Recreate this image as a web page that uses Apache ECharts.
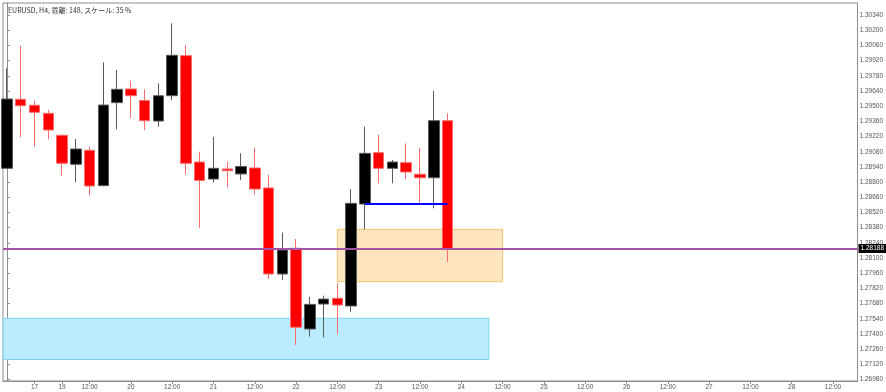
<!DOCTYPE html>
<html><head><meta charset="utf-8">
<script src="https://cdn.jsdelivr.net/npm/echarts@6/dist/echarts.min.js"></script>
<style>html,body{margin:0;padding:0;background:#fff}#c{width:886px;height:392px}</style>
</head><body><div id="c"></div>
<script>
// H4 bars (index along the time axis)
const barIndex = [0,1,2,3,4,5,6,7,8,9,10,11,12,13,14,15,16,17,18,19,20,21,22,23,24,25,26,27,28,29,30,31,32];
const openPrices  = [1.28927,1.29563,1.29508,1.29434,1.29231,1.28964,1.29093,1.28767,1.29532,1.29658,1.29552,1.29363,1.29596,1.29965,1.28985,1.28828,1.28921,1.28875,1.28930,1.28746,1.27953,1.28190,1.27446,1.27676,1.27729,1.27658,1.28598,1.29071,1.28927,1.28979,1.28872,1.28840,1.29366];
const highPrices  = [1.29849,1.30054,1.29550,1.29464,1.29239,1.29197,1.29126,1.29904,1.29833,1.29734,1.29655,1.29710,1.30263,1.30063,1.29080,1.29218,1.28988,1.29065,1.29117,1.28865,1.28335,1.28275,1.27742,1.27753,1.27867,1.28734,1.29310,1.29234,1.29004,1.29157,1.29117,1.29640,1.29434];
const lowPrices   = [1.28921,1.29213,1.29126,1.29194,1.28859,1.28798,1.28678,1.28761,1.29287,1.29388,1.29280,1.29310,1.29557,1.28872,1.28380,1.28794,1.28750,1.28819,1.28684,1.27907,1.27898,1.27298,1.27375,1.27369,1.27397,1.27605,1.28365,1.28789,1.28789,1.28826,1.28604,1.28558,1.28061];
const closePrices = [1.29566,1.29504,1.29443,1.29280,1.28973,1.29105,1.28764,1.29510,1.29655,1.29596,1.29366,1.29596,1.29969,1.28973,1.28815,1.28927,1.28905,1.28944,1.28736,1.27953,1.28174,1.27462,1.27673,1.27722,1.27667,1.28604,1.29065,1.28927,1.28985,1.28893,1.28840,1.29366,1.28188];

// time axis labels
const xLabelIdx  = [2,4,6,9,12,15,18,21,24,27,30,33,36,39,42,45,48,51,54,57,60];
const xLabelText = ['17','19','12:00','20','12:00','21','12:00','22','12:00','23','12:00','24','12:00','25','12:00','26','12:00','27','12:00','28','12:00'];
const xRange = [-0.289, 61.78];

// price axis ticks
const yTicks = [1.26980,1.27120,1.27260,1.27400,1.27540,1.27680,1.27820,1.27960,1.28100,1.28240,1.28380,1.28520,1.28660,1.28800,1.28940,1.29080,1.29220,1.29360,1.29500,1.29640,1.29780,1.29920,1.30060,1.30200,1.30340];
const yRange = [1.269667, 1.304506];

// drawn objects
const currentPrice = 1.28188;
const blueLine = {from: 26, to: 32, price: 1.28598};
const orangeZone = {from: 24, to: 36, top: 1.28365, bottom: 1.27882};
const cyanZone = {from: -1, to: 35, top: 1.27545, bottom: 1.27165};
const headerText = 'EURUSD, H4, 乖離: 148, スケール: 35 %';

const candleData = barIndex.map((x, i) => [x, openPrices[i], closePrices[i], lowPrices[i], highPrices[i]]);

const chart = echarts.init(document.getElementById('c'), null, {renderer: 'canvas'});
const font = '"Liberation Sans", Arial, sans-serif';
chart.setOption({
  animation: false,
  backgroundColor: '#ffffff',
  title: {
    text: headerText, left: 3, top: 2,
    textStyle: {fontSize: 7, fontWeight: 'normal', color: '#333', fontFamily: '"Noto Sans CJK JP", sans-serif'}
  },
  grid: {left: 3, right: 24, top: 3, bottom: 11, show: true, borderColor: '#8c8c8c', borderWidth: 1, backgroundColor: 'transparent'},
  xAxis: {
    type: 'value', min: xRange[0], max: xRange[1],
    axisLine: {show: true, lineStyle: {color: '#8c8c8c'}},
    splitLine: {show: false},
    axisTick: {show: true, customValues: xLabelIdx, length: 3, lineStyle: {color: '#8c8c8c'}},
    axisLabel: {
      customValues: xLabelIdx, margin: 3, fontSize: 6.5, color: '#555', fontFamily: font,
      formatter: v => { const k = xLabelIdx.indexOf(Math.round(v)); return k >= 0 ? xLabelText[k] : ''; }
    }
  },
  yAxis: {
    type: 'value', position: 'right', min: yRange[0], max: yRange[1], scale: true,
    axisLine: {show: true, lineStyle: {color: '#8c8c8c'}},
    splitLine: {show: false},
    axisTick: {show: true, customValues: yTicks, length: 3, lineStyle: {color: '#8c8c8c'}},
    axisLabel: {customValues: yTicks, margin: 2, fontSize: 6.5, color: '#555', fontFamily: font,
      formatter: v => v.toFixed(5)}
  },
  series: [{
    type: 'candlestick',
    data: candleData,
    barWidth: 11,
    itemStyle: {color: '#000000', color0: '#ff0000', borderColor: '#5a5a5a', borderColor0: '#ff6a6a', borderWidth: 1},
    markArea: {
      silent: true,
      data: [
        [{coord: [cyanZone.from, cyanZone.top], itemStyle: {color: '#bbecfd', borderColor: '#7fd3f2', borderWidth: 1}},
         {coord: [cyanZone.to, cyanZone.bottom]}],
        [{coord: [orangeZone.from, orangeZone.top], itemStyle: {color: '#fee5bf', borderColor: '#f7c26e', borderWidth: 1}},
         {coord: [orangeZone.to, orangeZone.bottom]}]
      ]
    },
    markLine: {
      silent: true, symbol: ['none', 'none'], precision: 5,
      data: [
        {yAxis: currentPrice, lineStyle: {color: '#a653a6', width: 2, type: 'solid'},
         label: {show: true, position: 'end', distance: 1, formatter: () => currentPrice.toFixed(5),
                 backgroundColor: '#000', color: '#fff', fontSize: 6.5, fontFamily: font, padding: [1, 2]}},
        [{coord: [blueLine.from, blueLine.price], lineStyle: {color: '#0000ff', width: 2, type: 'solid'}, label: {show: false}},
         {coord: [blueLine.to, blueLine.price]}]
      ]
    }
  }]
});
</script>
</body></html>
